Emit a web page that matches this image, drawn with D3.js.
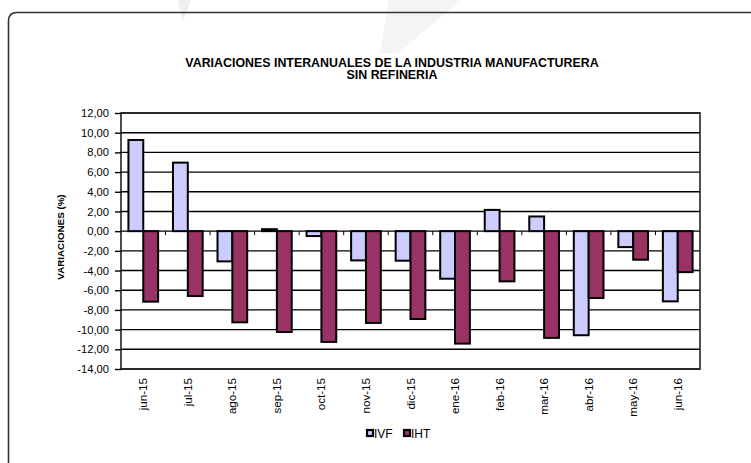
<!DOCTYPE html>
<html>
<head>
<meta charset="utf-8">
<script src="https://cdn.jsdelivr.net/npm/d3@7"></script>
<style>
  body { margin: 0; background: #fff; }
  svg { display: block; font-family: "Liberation Sans", Arial, sans-serif; }
</style>
</head>
<body>
<div id="graph"></div>
<script>
const months = ["jun-15", "jul-15", "ago-15", "sep-15", "oct-15", "nov-15", "dic-15",
                "ene-16", "feb-16", "mar-16", "abr-16", "may-16", "jun-16"];
const series = ["IVF", "IHT"];
const ivf = [9.26, 6.96, -3.07, 0.20, -0.50, -2.97, -3.00, -4.83, 2.16, 1.49, -10.57, -1.62, -7.13];
const iht = [-7.16, -6.59, -9.26, -10.24, -11.25, -9.32, -8.92, -11.42, -5.10, -10.84, -6.79, -2.90, -4.16];
const yTicks = [-14, -12, -10, -8, -6, -4, -2, 0, 2, 4, 6, 8, 10, 12];
const titleLines = ["VARIACIONES INTERANUALES DE LA INDUSTRIA MANUFACTURERA", "SIN REFINERIA"];

const width = 751;
const height = 463;
const marginTop = 113;
const marginRight = 51;
const marginBottom = 94;
const marginLeft = 121;

const colors = { IVF: "#ccccff", IHT: "#993366" };

const rows = months.map((m, i) => ({ month: m, IVF: ivf[i], IHT: iht[i] }));

const locale = d3.formatLocale({ decimal: ",", thousands: ".", grouping: [3], currency: ["", ""], minus: "-" });
const fmt = locale.format(".2f");

const x = d3.scaleBand()
            .domain(months)
            .range([marginLeft, width - marginRight])
            .paddingInner(1 / 3)
            .paddingOuter(1 / 6);

const xSub = d3.scaleBand()
               .domain(series)
               .range([0, x.bandwidth()]);

const y = d3.scaleLinear()
            .domain([-14, 12])
            .range([height - marginBottom, marginTop]);

const svg = d3.create("svg")
              .attr("width", width)
              .attr("height", height)
              .attr("viewBox", `0 0 ${width} ${height}`);

// faint watermark pieces
svg.append("path")
   .attr("d", "M178,0 L191,0 L183,22 Z")
   .attr("fill", "#efefef");
svg.append("path")
   .attr("d", "M389,0 L461,0 L398,53 L380,53 Z")
   .attr("fill", "#f4f4f4");

// outer frame
svg.append("path")
   .attr("d", `M8.5,${height} L8.5,21 Q8.5,12.5 17,12.5 L${width},12.5`)
   .attr("fill", "none")
   .attr("stroke", "#333")
   .attr("stroke-width", 1.6);

// title
svg.append("text")
   .attr("y", 66.5)
   .attr("text-anchor", "middle")
   .attr("font-weight", "bold")
   .attr("font-size", 12.4)
   .selectAll("tspan")
   .data(titleLines)
   .join("tspan")
   .attr("x", 392)
   .attr("dy", (d, i) => i ? 12.5 : 0)
   .text(d => d);

// gridlines
svg.append("g")
   .selectAll("line")
   .data(yTicks)
   .join("line")
   .attr("x1", marginLeft)
   .attr("x2", width - marginRight)
   .attr("y1", d => y(d))
   .attr("y2", d => y(d))
   .attr("stroke", "#000")
   .attr("stroke-width", 1.4);

// plot border
svg.append("rect")
   .attr("x", marginLeft)
   .attr("y", marginTop)
   .attr("width", width - marginLeft - marginRight)
   .attr("height", height - marginTop - marginBottom)
   .attr("fill", "none")
   .attr("stroke", "#222")
   .attr("stroke-width", 1.6);

// bars
svg.append("g")
   .selectAll("g")
   .data(rows)
   .join("g")
   .attr("transform", d => `translate(${x(d.month)},0)`)
   .selectAll("rect")
   .data(d => series.map(s => ({ key: s, value: d[s] })))
   .join("rect")
   .attr("x", d => xSub(d.key))
   .attr("y", d => y(Math.max(0, d.value)))
   .attr("width", xSub.bandwidth())
   .attr("height", d => Math.abs(y(d.value) - y(0)))
   .attr("fill", d => colors[d.key])
   .attr("stroke", "#000")
   .attr("stroke-width", 2);

// x axis on the zero line: ticks between categories
const step = x.step();
svg.append("g")
   .selectAll("line")
   .data(d3.range(1, months.length))
   .join("line")
   .attr("x1", i => marginLeft + i * step)
   .attr("x2", i => marginLeft + i * step)
   .attr("y1", y(0))
   .attr("y2", y(0) + 4)
   .attr("stroke", "#000")
   .attr("stroke-width", 1);

// y axis
const yAxis = d3.axisLeft(y)
                .tickValues(yTicks)
                .tickFormat(fmt)
                .tickSize(6)
                .tickPadding(6);

svg.append("g")
   .attr("transform", `translate(${marginLeft},0)`)
   .call(yAxis)
   .call(g => g.select(".domain").remove())
   .call(g => g.selectAll("line").attr("stroke", "#000").attr("stroke-width", 1.4))
   .call(g => g.selectAll("text").attr("font-size", 11.2).attr("fill", "#000").attr("font-family", "Liberation Sans, Arial, sans-serif"));

svg.append("text")
   .attr("transform", `translate(64, ${(marginTop + height - marginBottom) / 2 - 4}) rotate(-90)`)
   .attr("text-anchor", "middle")
   .attr("font-weight", "bold")
   .attr("font-size", 9.8)
   .text("VARIACIONES (%)");

// x labels
svg.append("g")
   .selectAll("text")
   .data(months)
   .join("text")
   .attr("transform", d => `translate(${x(d) + x.bandwidth() / 2 + 4}, ${height - marginBottom + 9}) rotate(-90)`)
   .attr("text-anchor", "end")
   .attr("font-size", 11.6)
   .text(d => d);

// legend
const legend = svg.append("g")
                  .attr("transform", "translate(366, 433)");

const item = legend.selectAll("g")
                   .data(series)
                   .join("g")
                   .attr("transform", (d, i) => `translate(${i * 37}, 0)`);

item.append("rect")
    .attr("x", 1)
    .attr("y", -3)
    .attr("width", 6)
    .attr("height", 6)
    .attr("fill", d => colors[d])
    .attr("stroke", "#000")
    .attr("stroke-width", 2.2);

item.append("text")
    .attr("x", 8)
    .attr("y", 4.5)
    .attr("font-size", 12)
    .text(d => d);

graph.append(svg.node());
</script>
</body>
</html>
